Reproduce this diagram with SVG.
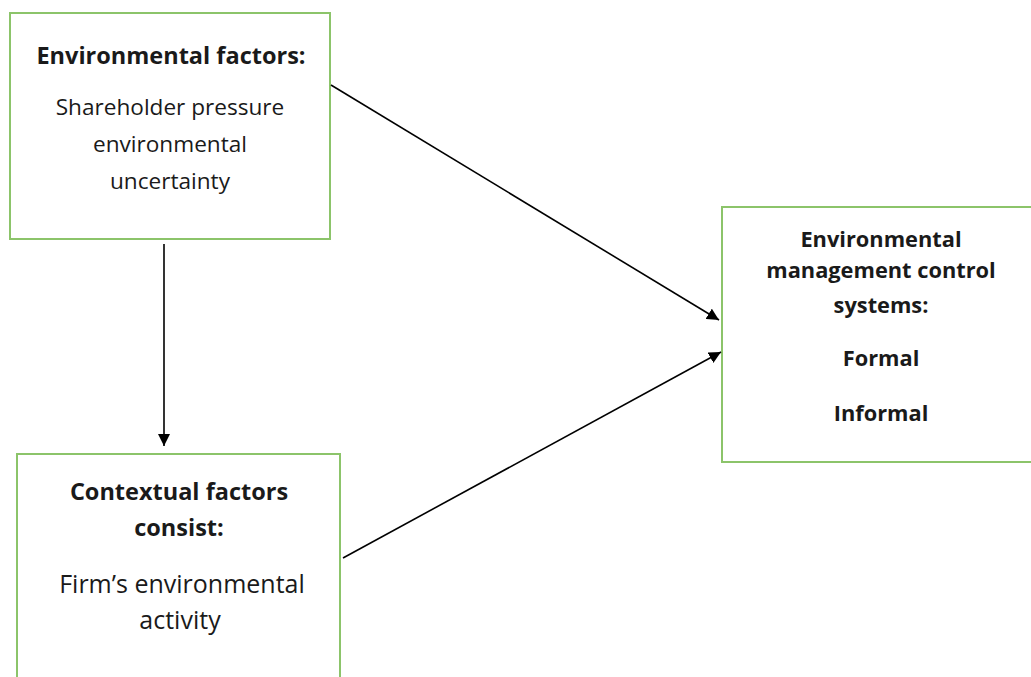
<svg xmlns="http://www.w3.org/2000/svg" width="1031" height="677" viewBox="0 0 1031 677">
<style>
.box{fill:#fff;stroke:#8cc46a;stroke-width:2}
.t{font-family:"Open Sans","Noto Sans",sans-serif;fill:#1a1a1a;text-anchor:middle;font-size:20px}
.b{font-weight:bold}
.s1h{font-size:23.5px}
.s1b{font-size:22.6px}
.s2{font-size:21.8px}
.s3h{font-size:23.5px}
.s3b{font-size:25px}
.c{stroke:#000;stroke-width:1.6;fill:none}
</style>
<defs>
<marker id="ah2" viewBox="0 0 10 10" refX="10" refY="5" markerWidth="12" markerHeight="12" markerUnits="userSpaceOnUse" orient="auto">
<path d="M0,0 L10,5 L0,10 z" fill="#000"/>
</marker>
</defs>
<rect width="1031" height="677" fill="#fff"/>
<g id="n1">
<rect class="box" x="10" y="13" width="320" height="226"/>
<text class="t b s1h" x="171" y="64">Environmental factors:</text>
<text class="t s1b" x="170" y="115">Shareholder pressure</text>
<text class="t s1b" x="170" y="152">environmental</text>
<text class="t s1b" x="170" y="189">uncertainty</text>
</g>
<g id="n2">
<rect class="box" x="722" y="207" width="312" height="255"/>
<text class="t b s2" x="881" y="247">Environmental</text>
<text class="t b s2" x="881" y="278">management control</text>
<text class="t b s2" x="881" y="313">systems:</text>
<text class="t b s2" x="881" y="366">Formal</text>
<text class="t b s2" x="881" y="421">Informal</text>
</g>
<g id="n3">
<rect class="box" x="17" y="454" width="323" height="230"/>
<text class="t b s3h" x="179" y="500">Contextual factors</text>
<text class="t b s3h" x="179" y="536">consist:</text>
<text class="t s3b" x="182" y="593">Firm’s environmental</text>
<text class="t s3b" x="180" y="629">activity</text>
</g>
<g id="connectors">
<line class="c" x1="164" y1="244" x2="164" y2="446" marker-end="url(#ah2)"/>
<line class="c" x1="331" y1="85" x2="719" y2="320" marker-end="url(#ah2)"/>
<line class="c" x1="343" y1="558" x2="721" y2="352" marker-end="url(#ah2)"/>
</g>
</svg>
